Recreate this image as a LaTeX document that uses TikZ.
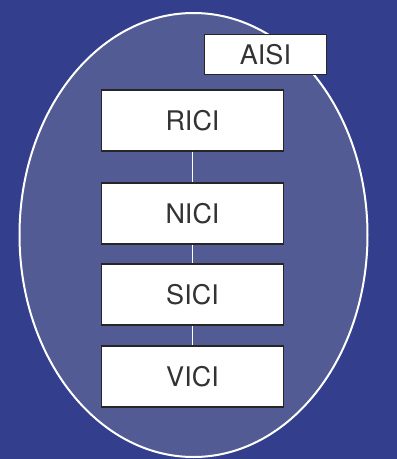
\documentclass[tikz,border=0pt]{standalone}
\usepackage{fontspec}
\setmainfont{TeX Gyre Heros}
\definecolor{bgblue}{HTML}{333F8D}
\definecolor{ovalfill}{HTML}{525B94}
\definecolor{boxline}{HTML}{262626}
\definecolor{boxtext}{HTML}{333333}
\begin{document}
\begin{tikzpicture}[x=1pt,y=-1pt,
  layerbox/.style={draw=boxline, line width=1.4pt, fill=white,
    minimum width=182pt, minimum height=61pt, inner sep=0pt,
    font=\fontsize{27}{27}\selectfont, text=boxtext},
  smallbox/.style={layerbox, minimum width=122pt, minimum height=40pt},
  link/.style={draw=white, line width=1.1pt}]
  % canvas
  \fill[bgblue] (0,0) rectangle (397,459);
  \useasboundingbox (0,0) rectangle (397,459);
  \begin{scope}
    \clip (0,0) rectangle (397,459);
    \draw[white, line width=2pt, fill=ovalfill]
      (193.5,235) ellipse [x radius=174, y radius=222];
  \end{scope}
  % stacked layers
  \node[layerbox] (rici) at (192.5,120.5) {RICI};
  \node[layerbox] (nici) at (192.5,213.5) {NICI};
  \node[layerbox] (sici) at (192.5,294.5) {SICI};
  \node[layerbox] (vici) at (192.5,376.5) {VICI};
  \node[smallbox] (aisi) at (265.5,54.5) {AISI};
  % links between layers
  \draw[link] (rici.south) -- (nici.north);
  \draw[link] (nici.south) -- (sici.north);
  \draw[link] (sici.south) -- (vici.north);
\end{tikzpicture}
\end{document}
